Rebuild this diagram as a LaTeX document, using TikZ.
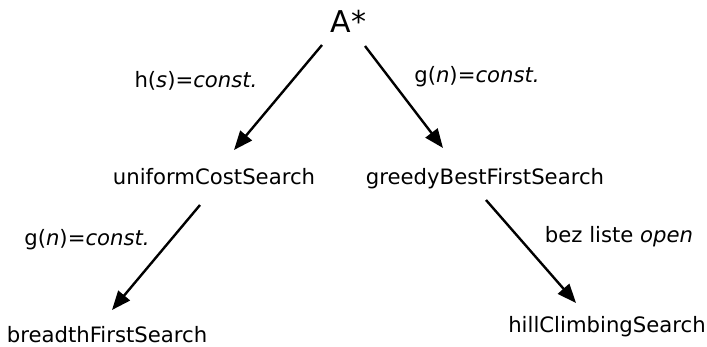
\documentclass[tikz,border=0pt]{standalone}
\usepackage{fontspec}
\setmainfont{DejaVu Sans}
\usetikzlibrary{arrows.meta}
\begin{document}
\begin{tikzpicture}[x=1pt,y=-1pt,
  lbl/.style={font=\fontsize{21.2}{25}\selectfont, inner sep=0pt, anchor=base},
  elbl/.style={font=\fontsize{21.2}{25}\selectfont, inner sep=0pt, anchor=base},
  arr/.style={line width=2.4pt, -{Triangle[length=19pt,width=15pt]}}]
\useasboundingbox (0,0) rectangle (707,346);
\node[font=\fontsize{30}{34}\selectfont, inner sep=0pt, anchor=base] (A) at (348.5,32) {A*};
\node[lbl] (ucs) at (214,184) {uniformCostSearch};
\node[lbl] (gbfs) at (485,184) {greedyBestFirstSearch};
\node[lbl, text depth=0pt] (bfs) at (107,342) {breadthFirstSearch};
\node[lbl] (hcs) at (607,332) {hillClimbingSearch};
\node[elbl] (l1) at (196,87) {h(\textit{s})=\textit{const.}};
\node[elbl] (l2) at (477,82) {g(\textit{n})=\textit{const.}};
\node[elbl] (l3) at (87,245) {g(\textit{n})=\textit{const.}};
\node[elbl] (l4) at (619,242) {bez liste \textit{open}};
\coordinate (s1) at (322,45); \coordinate (e1) at (234,150);
\coordinate (s2) at (365,46); \coordinate (e2) at (443,148);
\coordinate (s3) at (200,205); \coordinate (e3) at (112,310);
\coordinate (s4) at (486,200); \coordinate (e4) at (576,303);
\draw[arr] (s1) -- (e1);
\draw[arr] (s2) -- (e2);
\draw[arr] (s3) -- (e3);
\draw[arr] (s4) -- (e4);
\end{tikzpicture}
\end{document}
